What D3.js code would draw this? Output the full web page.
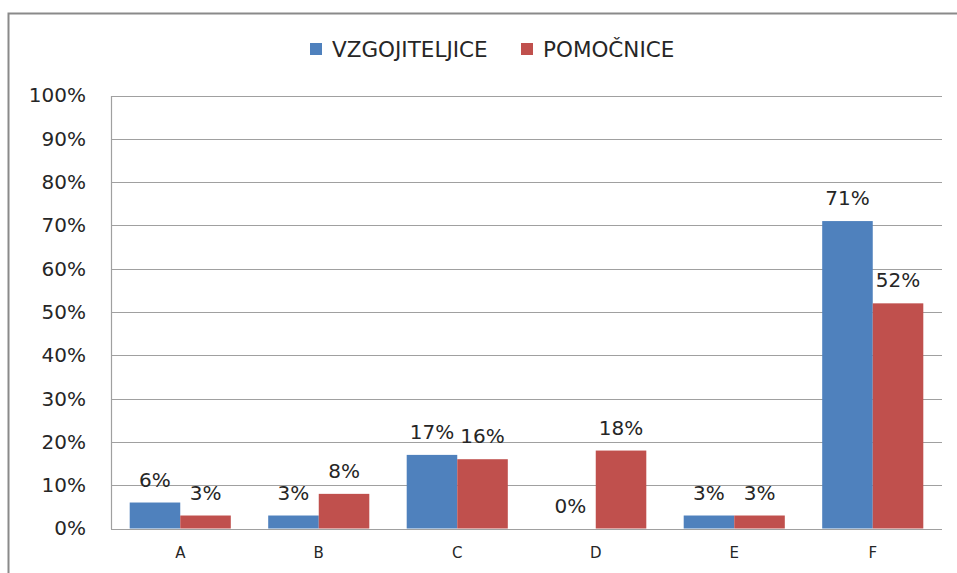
<!DOCTYPE html>
<html>
<head>
<meta charset="utf-8">
<script src="https://cdn.jsdelivr.net/npm/d3@7"></script>
<style>
  html, body { margin: 0; padding: 0; background: #fff; }
  svg { display: block; }
  text { font-family: "DejaVu Sans", Verdana, sans-serif; fill: #262626; }
</style>
</head>
<body>
<svg id="chart" width="957" height="573"></svg>
<script>
const categories = ["A", "B", "C", "D", "E", "F"];
const seriesNames = ["VZGOJITELJICE", "POMOČNICE"];
const vzgojiteljice = [6, 3, 17, 0, 3, 71];
const pomocnice = [3, 8, 16, 18, 3, 52];
const yTicks = [0, 10, 20, 30, 40, 50, 60, 70, 80, 90, 100];
const colors = ["#4F81BD", "#C0504D"];

const svg = d3.select("#chart");
const W = 957, H = 573;
const plot = { left: 111, right: 942, top: 95.5, bottom: 528.5 };

svg.append("rect").attr("width", W).attr("height", H).attr("fill", "#fff");
// outer chart border
svg.append("rect")
  .attr("x", 8.5).attr("y", 13.5)
  .attr("width", W + 20).attr("height", H + 20)
  .attr("fill", "none").attr("stroke", "#8a8a8a").attr("stroke-width", 2);

const x = d3.scaleBand().domain(categories)
  .range([plot.left, plot.right]).paddingInner(0.27).paddingOuter(0.135);
const xs = d3.scaleBand().domain(seriesNames).range([0, x.bandwidth()]);
const y = d3.scaleLinear().domain([0, 100]).range([plot.bottom, plot.top]);

// gridlines
svg.append("g").selectAll("line").data(yTicks).join("line")
  .attr("x1", plot.left).attr("x2", plot.right)
  .attr("y1", d => Math.round(y(d)) + 0.5).attr("y2", d => Math.round(y(d)) + 0.5)
  .attr("stroke", "#a0a0a0").attr("stroke-width", 1.2);

// y axis
const yAxis = d3.axisLeft(y).tickValues(yTicks).tickFormat(d => d + "%").tickSize(0).tickPadding(25);
const ya = svg.append("g").attr("transform", `translate(${plot.left},0)`).call(yAxis);
ya.select(".domain").attr("stroke", "#a0a0a0").attr("stroke-width", 1.2);
ya.selectAll("text").attr("font-size", 20).attr("fill", "#262626")
  .attr("font-family", "'DejaVu Sans', Verdana, sans-serif");

// x axis
const xAxis = d3.axisBottom(x).tickSize(0).tickPadding(19);
const xa = svg.append("g").attr("transform", `translate(0,${plot.bottom})`).call(xAxis);
xa.select(".domain").remove();
xa.selectAll("text").attr("font-size", 15).attr("fill", "#262626")
  .attr("font-family", "'DejaVu Sans', Verdana, sans-serif");

const rows = categories.map((c, i) => ({
  cat: c,
  vals: [
    { s: seriesNames[0], v: vzgojiteljice[i], c: colors[0] },
    { s: seriesNames[1], v: pomocnice[i], c: colors[1] }
  ]
}));

const g = svg.append("g").selectAll("g").data(rows).join("g")
  .attr("transform", d => `translate(${x(d.cat)},0)`);

g.selectAll("rect").data(d => d.vals).join("rect")
  .attr("x", d => xs(d.s))
  .attr("y", d => y(d.v))
  .attr("width", xs.bandwidth())
  .attr("height", d => y(0) - y(d.v))
  .attr("fill", d => d.c);

g.selectAll("text.lbl").data(d => d.vals).join("text")
  .attr("class", "lbl")
  .attr("x", d => xs(d.s) + xs.bandwidth() / 2)
  .attr("y", d => y(d.v) - 16)
  .attr("text-anchor", "middle")
  .attr("font-size", 20)
  .text(d => d.v + "%");

// legend
const legend = svg.append("g");
const legendItems = [
  { name: seriesNames[0], color: colors[0], x: 310 },
  { name: seriesNames[1], color: colors[1], x: 521 }
];
legendItems.forEach(it => {
  legend.append("rect").attr("x", it.x).attr("y", 43).attr("width", 12).attr("height", 12).attr("fill", it.color);
  legend.append("text").attr("x", it.x + 22).attr("y", 57).attr("font-size", 21.5).text(it.name);
});
</script>
</body>
</html>
